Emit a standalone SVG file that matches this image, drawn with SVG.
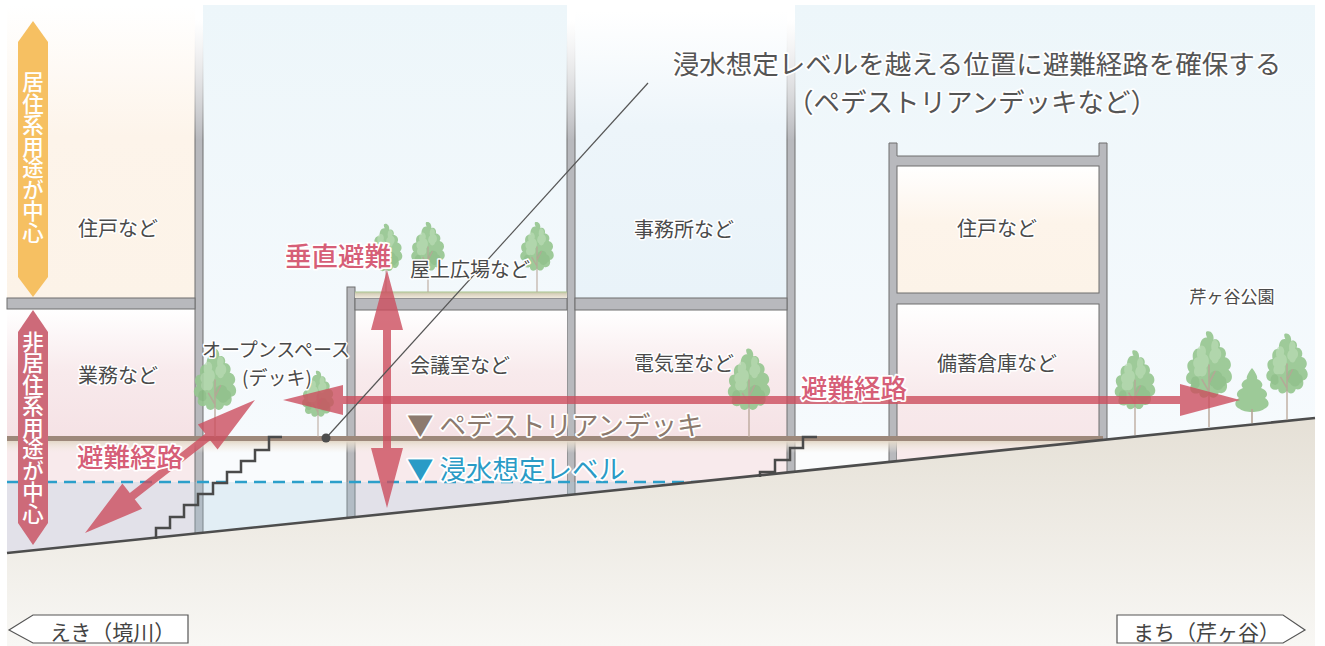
<svg xmlns="http://www.w3.org/2000/svg" width="1325" height="646" viewBox="0 0 1325 646">
  <defs>
    <style>
      .lbl{font-family:'Noto Sans CJK JP','Noto Sans',sans-serif;font-size:20px;fill:#4a4a4a;text-anchor:middle;paint-order:stroke;stroke:#fff;stroke-width:3px;stroke-linejoin:round}
      .big{font-family:'Noto Sans CJK JP','Noto Sans',sans-serif;font-size:26.5px;paint-order:stroke;stroke:#fff;stroke-width:3.5px;stroke-linejoin:round}
      .red{fill:#d65e77;font-weight:500}
      .note{fill:#555;text-anchor:middle}
      .wall{fill:#b8b9bd;stroke:#6f6f6f;stroke-width:1}
      .fadewall{fill:url(#wallFade);stroke:url(#edgeFade);stroke-width:1}
      .arrow{fill:#cc4e5e;opacity:.8}
      .stairs{fill:none;stroke:#4a4a4a;stroke-width:2.5}
      .vt{font-family:'Noto Sans CJK JP','Noto Sans',sans-serif;font-size:21.5px;font-weight:500;fill:#fff;writing-mode:vertical-rl;text-anchor:middle}
      .sign{fill:#fff;stroke:#555;stroke-width:1.2}
      .signtxt{font-family:'Noto Sans CJK JP','Noto Sans',sans-serif;font-size:21px;fill:#444}
      .leaf{fill:#95c68f}
      .leafLight{fill:#b4d9ac;opacity:.7}
      .leafDark{fill:#7db478;opacity:.5}
    </style>
    <linearGradient id="cream" x1="0" y1="0" x2="0" y2="1">
      <stop offset="0" stop-color="#ffffff"/>
      <stop offset="0.45" stop-color="#fdf4ea"/>
      <stop offset="1" stop-color="#fcf3e8"/>
    </linearGradient>
    <linearGradient id="pink" x1="0" y1="0" x2="0" y2="1">
      <stop offset="0" stop-color="#ffffff"/>
      <stop offset="0.5" stop-color="#f8eaec"/>
      <stop offset="1" stop-color="#f5e2e5"/>
    </linearGradient>
    <linearGradient id="office" x1="0" y1="11" x2="0" y2="298" gradientUnits="userSpaceOnUse">
      <stop offset="0" stop-color="#ffffff"/>
      <stop offset="0.4" stop-color="#edf5fa"/>
      <stop offset="1" stop-color="#e9f3f9"/>
    </linearGradient>
    <linearGradient id="sky" x1="0" y1="5" x2="0" y2="440" gradientUnits="userSpaceOnUse">
      <stop offset="0" stop-color="#edf6fa"/>
      <stop offset="1" stop-color="#f6fafd"/>
    </linearGradient>
    <linearGradient id="wallFade" x1="0" y1="20" x2="0" y2="140" gradientUnits="userSpaceOnUse">
      <stop offset="0" stop-color="#ffffff" stop-opacity="0.6"/>
      <stop offset="1" stop-color="#b8b9bd"/>
    </linearGradient>
    <linearGradient id="edgeFade" x1="0" y1="20" x2="0" y2="140" gradientUnits="userSpaceOnUse">
      <stop offset="0" stop-color="#ffffff" stop-opacity="0"/>
      <stop offset="1" stop-color="#6f6f6f"/>
    </linearGradient>
    <linearGradient id="ground" x1="0" y1="418" x2="0" y2="646" gradientUnits="userSpaceOnUse">
      <stop offset="0" stop-color="#e5e0d6"/>
      <stop offset="1" stop-color="#f8f7f4"/>
    </linearGradient>
    <linearGradient id="deckShade" x1="0" y1="0" x2="0" y2="1">
      <stop offset="0" stop-color="#e3d8c8"/>
      <stop offset="1" stop-color="#f3ede4" stop-opacity="0"/>
    </linearGradient>
    <linearGradient id="roofStrip" x1="0" y1="0" x2="0" y2="1">
      <stop offset="0" stop-color="#a9c48e"/>
      <stop offset="0.35" stop-color="#d8d0bc"/>
      <stop offset="1" stop-color="#efe9dc"/>
    </linearGradient>

    <!-- broadleaf tree, base of trunk at 0,0 -->
    <g id="tree">
      <g transform="scale(0.85,1)" opacity="0.9">
        <path class="leaf" d="M-2,-92 C3,-93 6,-88 5,-84 C10,-86 14,-81 12,-77 C18,-77 21,-71 18,-67 C25,-66 27,-58 22,-55 C28,-51 27,-43 20,-42 C22,-36 17,-31 11,-33 C9,-27 2,-27 0,-31 C-4,-26 -11,-28 -11,-33 C-18,-30 -24,-35 -20,-41 C-27,-42 -28,-50 -22,-53 C-27,-58 -24,-65 -18,-65 C-20,-72 -15,-77 -10,-75 C-11,-82 -7,-87 -2,-86 C-4,-89 -4,-92 -2,-92 Z"/>
        <path class="leafLight" d="M-10,-78 C-5,-80 -2,-74 -4,-70 C1,-68 1,-60 -3,-57 C-1,-52 -5,-47 -10,-49 C-15,-47 -19,-52 -16,-57 C-20,-61 -17,-67 -13,-67 C-15,-72 -13,-77 -10,-78 Z"/>
        <path class="leafLight" d="M6,-84 C10,-84 12,-79 10,-76 C15,-74 15,-67 11,-65 C10,-60 4,-60 3,-64 C-1,-66 0,-72 3,-74 C2,-79 3,-83 6,-84 Z"/>
        <path class="leafDark" d="M2,-52 C7,-56 14,-54 15,-49 C21,-48 21,-40 16,-39 C13,-34 6,-35 4,-39 C-1,-40 -2,-48 2,-52 Z"/>
        <path class="leafDark" d="M-18,-48 C-14,-50 -10,-47 -11,-43 C-9,-39 -14,-36 -17,-38 C-21,-38 -22,-45 -18,-48 Z"/>
      </g>
      <path d="M0,0 V-60 M0,-34 L-7,-46 M0,-42 L6,-54" stroke="#b7a596" stroke-width="1.6" fill="none" opacity="0.85"/>
    </g>
    <!-- conifer-like tree, base at 0,0 -->
    <g id="conifer">
      <path class="leaf" opacity="0.92" d="M0,-55 C4,-50 6,-46 5,-44 C10,-42 12,-38 9,-35 C15,-33 17,-28 13,-25 C18,-22 18,-16 12,-14 C8,-10 -8,-10 -12,-14 C-18,-16 -18,-22 -13,-25 C-17,-28 -15,-33 -9,-35 C-12,-38 -10,-42 -5,-44 C-6,-46 -4,-50 0,-55 Z"/>
      <path d="M0,0 V-14" stroke="#b7a596" stroke-width="1.6"/>
    </g>
  </defs>

  <rect width="1325" height="646" fill="#ffffff"/>

  <!-- open space / sky backdrops -->
  <g id="backdrop">
    <rect x="203" y="5" width="364" height="560" fill="url(#sky)"/>
    <rect x="795" y="5" width="520" height="560" fill="url(#sky)"/>
    <rect x="203" y="441" width="144" height="120" fill="#f9fbfd"/>
    <rect x="795" y="441" width="94" height="60" fill="#fbfcfd"/>
  </g>

  <!-- left building: housing above, offices below -->
  <g id="building-left">
    <rect x="7" y="5" width="188" height="293" fill="url(#cream)"/>
    <rect x="7" y="309" width="188" height="127" fill="url(#pink)"/>
    <rect x="7" y="441" width="188" height="120" fill="#f8eaec"/>
    <rect class="fadewall" x="195" y="5" width="8" height="540"/>
    <rect class="wall" x="7" y="298" width="188" height="11"/>
  </g>

  <!-- center building: offices above, electrical room below -->
  <g id="building-center">
    <rect x="575" y="11" width="212" height="287" fill="url(#office)"/>
    <rect x="575" y="310" width="212" height="126" fill="url(#pink)"/>
    <rect x="575" y="441" width="212" height="80" fill="#f8eaec"/>
    <rect class="fadewall" x="567" y="11" width="8" height="500"/>
    <rect class="fadewall" x="787" y="11" width="8" height="480"/>
    <rect class="wall" x="575" y="298" width="212" height="12"/>
  </g>

  <!-- low building with rooftop plaza -->
  <g id="building-plaza">
    <rect x="355" y="310" width="212" height="126" fill="url(#pink)"/>
    <rect x="355" y="441" width="212" height="100" fill="#f8eaec"/>
    <rect class="wall" x="347" y="287" width="8" height="250"/>
    <rect class="wall" x="355" y="298" width="212" height="12"/>
    <rect x="355" y="291.5" width="212" height="6.5" fill="url(#roofStrip)"/>
  </g>

  <!-- right building: housing above, storage below -->
  <g id="building-right">
    <path class="wall" d="M889,480 L889,143 L897,143 L897,156 L1099,156 L1099,143 L1107,143 L1107,480 Z"/>
    <rect x="897" y="166" width="202" height="127" fill="url(#cream)" stroke="#6f6f6f" stroke-width="1"/>
    <rect x="897" y="304" width="202" height="180" fill="url(#pink)" stroke="#6f6f6f" stroke-width="1"/>
    <rect x="897" y="441" width="202" height="40" fill="#f8eaec"/>
  </g>

  <!-- below the expected flood level -->
  <rect id="flood-zone" x="7" y="482" width="710" height="80" fill="#9fc6e0" opacity="0.25"/>

  <!-- pedestrian deck -->
  <g id="deck">
    <rect x="7" y="441" width="1096" height="12" fill="url(#deckShade)"/>
    <rect x="7" y="436" width="1096" height="5" fill="#9d887a"/>
  </g>

  <!-- expected flood level -->
  <line id="flood-line" x1="7" y1="482" x2="705" y2="482" stroke="#2b9fca" stroke-width="2.5" stroke-dasharray="12 7"/>

  <!-- ground -->
  <g id="ground">
    <polygon points="7,553 1315,418 1315,646 7,646" fill="url(#ground)"/>
    <line x1="7" y1="553" x2="1315" y2="418" stroke="#4d4d4d" stroke-width="2.6"/>
  </g>

  <!-- stairs -->
  <g id="stairs">
    <path class="stairs" d="M282,437 L269,437 L269,450 L255,450 L255,461 L241,461 L241,472 L227,472 L227,483 L213,483 L213,494 L198,494 L198,505 L184,505 L184,517 L170,517 L170,528 L156,528 L156,539"/>
    <path class="stairs" d="M817,437 L803,437 L803,448 L790,448 L790,460 L775,460 L775,472 L760,472 L760,477"/>
  </g>

  <!-- trees -->
  <g id="trees">
    <use href="#tree" transform="translate(215,437) scale(0.96)"/>
    <use href="#tree" transform="translate(318,437) scale(0.72)"/>
    <use href="#tree" transform="translate(386,292) scale(0.74)"/>
    <use href="#tree" transform="translate(428,292) scale(0.76)"/>
    <use href="#tree" transform="translate(537,292) scale(0.76)"/>
    <use href="#tree" transform="translate(749,437) scale(0.96)"/>
    <use href="#tree" transform="translate(1135,435) scale(0.92)"/>
    <use href="#tree" transform="translate(1209,427) scale(1.04)"/>
    <use href="#conifer" transform="translate(1252,423)"/>
    <use href="#tree" transform="translate(1287,420) scale(0.94)"/>
  </g>

  <!-- evacuation arrows -->
  <g id="connectors">
    <polygon class="arrow" transform="translate(387,508) rotate(-90)" points="0,0 60,-16 60,-4 178,-4 178,-16 238,0 178,16 178,4 60,4 60,16"/>
    <polygon class="arrow" points="283,400 343,385 343,396 1180,396 1180,384 1240,400 1180,416 1180,404 343,404 343,415"/>
    <polygon class="arrow" transform="translate(85,533) rotate(-38.04)" points="0,0 60,-16 60,-4 155.8,-4 155.8,-16 215.8,0 155.8,16 155.8,4 60,4 60,16"/>
    <line x1="326" y1="438" x2="648" y2="83" stroke="#555" stroke-width="1.2"/>
    <circle cx="326" cy="438" r="4.5" fill="#4d4d4d"/>
  </g>

  <!-- use-zone badges -->
  <g id="zone-residential">
    <polygon points="33,21 48,42 48,277 33,297 18,277 18,42" fill="#f6c062"/>
    <text class="vt" x="33" y="157.5">居住系用途が中心</text>
  </g>
  <g id="zone-nonresidential">
    <polygon points="33,310 48,332 48,523 33,545 18,523 18,332" fill="#cd6a79"/>
    <text class="vt" x="33" y="427.5">非居住系用途が中心</text>
  </g>

  <!-- room labels -->
  <g id="labels">
    <text class="lbl" x="118" y="236">住戸など</text>
    <text class="lbl" x="118" y="383">業務など</text>
    <text class="lbl" x="276" y="357" style="font-size:19px">オープンスペース</text>
    <text class="lbl" x="277" y="385" style="font-size:19px">(デッキ)</text>
    <text class="lbl" x="470" y="277">屋上広場など</text>
    <text class="lbl" x="460" y="373">会議室など</text>
    <text class="lbl" x="684" y="237">事務所など</text>
    <text class="lbl" x="684" y="371">電気室など</text>
    <text class="lbl" x="997" y="236">住戸など</text>
    <text class="lbl" x="997" y="371">備蓄倉庫など</text>
    <text class="lbl" x="1232" y="303" style="font-size:17px">芹ヶ谷公園</text>
  </g>

  <g id="route-labels">
    <text class="big red" x="338" y="266" text-anchor="middle">垂直避難</text>
    <text class="big red" x="130" y="467" text-anchor="middle">避難経路</text>
    <text class="big red" x="854" y="398" text-anchor="middle">避難経路</text>
    <text class="big" x="407" y="435" fill="#8c7a6e">▼ ペデストリアンデッキ</text>
    <text class="big" x="407" y="479" fill="#2a9bc6">▼ 浸水想定レベル</text>
  </g>

  <g id="callout">
    <text class="big note" x="977" y="74">浸水想定レベルを越える位置に避難経路を確保する</text>
    <text class="big note" x="972" y="112">（ペデストリアンデッキなど）</text>
  </g>

  <!-- direction signs -->
  <g id="sign-station">
    <polygon class="sign" points="9,630 33,615 188,615 188,643 33,643"/>
    <text class="signtxt" x="50" y="640">えき（境川）</text>
  </g>
  <g id="sign-town">
    <polygon class="sign" points="1117,615 1283,615 1305,630 1283,643 1117,643"/>
    <text class="signtxt" x="1133" y="640">まち（芹ヶ谷）</text>
  </g>
</svg>
